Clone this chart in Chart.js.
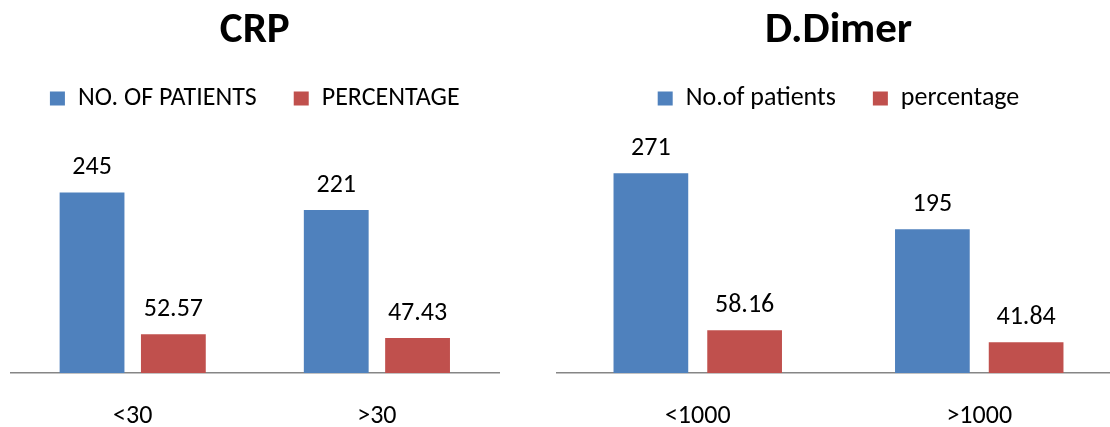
<!DOCTYPE html>
<html>
<head>
<meta charset="utf-8">
<script src="https://cdn.jsdelivr.net/npm/chart.js@4.4.1/dist/chart.umd.min.js"></script>
<style>
  html, body { margin: 0; padding: 0; background: #fff; overflow: hidden; }
  .wrap { position: absolute; top: 0; height: 427px; overflow: hidden; }
  #leftWrap { left: 0; width: 555px; }
  #rightWrap { left: 555px; width: 555px; }
</style>
</head>
<body>
<div class="wrap" id="leftWrap"><canvas id="crpChart" width="555" height="427"></canvas></div>
<div class="wrap" id="rightWrap"><canvas id="ddimerChart" width="575" height="427"></canvas></div>
<script>
// CRP
const crpCategories = ['<30', '>30'];
const crpPatients = [245, 221];
const crpPercent = [52.57, 47.43];
const crpLabels = ['NO. OF PATIENTS', 'PERCENTAGE'];

// D.Dimer
const ddCategories = ['<1000', '>1000'];
const ddPatients = [271, 195];
const ddPercent = [58.16, 41.84];
const ddLabels = ['No.of patients', 'percentage'];

const FONT = "Carlito, Calibri, Lato, sans-serif";
const BLUE = '#4F81BD';
const RED = '#C0504D';

// draws the value above each bar
const valueLabels = {
  id: 'valueLabels',
  afterDatasetsDraw(chart) {
    const ctx = chart.ctx;
    ctx.save();
    ctx.font = '26px ' + FONT;
    ctx.fillStyle = '#000';
    ctx.textAlign = 'center';
    ctx.textBaseline = 'alphabetic';
    chart.data.datasets.forEach((ds, i) => {
      chart.getDatasetMeta(i).data.forEach((bar, j) => {
        ctx.fillText(String(ds.data[j]), bar.x, bar.y - 18);
      });
    });
    ctx.restore();
  }
};

function makeChart(id, title, categories, patients, percent, labels, pad) {
  return new Chart(document.getElementById(id), {
    type: 'bar',
    data: {
      labels: categories,
      datasets: [
        { label: labels[0], data: patients, backgroundColor: BLUE,
          categoryPercentage: 0.666, barPercentage: 0.797 },
        { label: labels[1], data: percent, backgroundColor: RED,
          categoryPercentage: 0.666, barPercentage: 0.797 }
      ]
    },
    options: {
      responsive: false,
      animation: false,
      layout: { padding: { left: pad[0], right: pad[1], top: 0, bottom: 0 } },
      plugins: {
        title: {
          display: true,
          text: title,
          color: '#000',
          font: { family: FONT, size: 43, weight: 'bold', lineHeight: 0.8 },
          padding: { top: 14, bottom: 0 }
        },
        legend: {
          display: true,
          labels: {
            boxWidth: 15,
            boxHeight: 14,
            padding: 37,
            color: '#000',
            font: { family: FONT, size: 26 }
          }
        },
        tooltip: { enabled: false }
      },
      scales: {
        x: {
          grid: { display: false, drawTicks: false },
          border: { display: true, color: '#868686', width: 1.5 },
          ticks: { color: '#000', padding: 28, font: { family: FONT, size: 26 } },
          afterFit(scale) { scale.height = 54; }
        },
        // empty band between legend and plot
        gap: {
          type: 'category',
          position: 'top',
          grid: { display: false, drawTicks: false },
          border: { display: false },
          ticks: { display: false },
          afterFit(scale) { scale.height = 30.5; }
        },
        y: {
          display: false,
          min: 0,
          max: 300
        }
      }
    },
    plugins: [valueLabels]
  });
}

makeChart('crpChart', 'CRP', crpCategories, crpPatients, crpPercent, crpLabels, [10.6, 56]);
makeChart('ddimerChart', 'D.Dimer', ddCategories, ddPatients, ddPercent, ddLabels, [2, 10]);
</script>
</body>
</html>
